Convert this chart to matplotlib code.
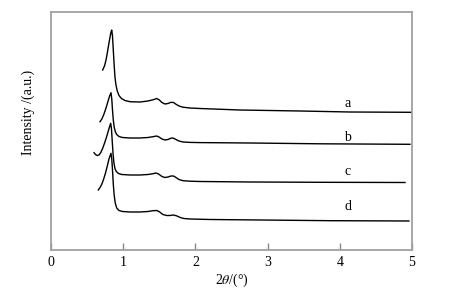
import matplotlib
matplotlib.use("Agg")
import matplotlib.pyplot as plt

plt.rcParams['font.family'] = ['Liberation Serif', 'DejaVu Serif']
plt.rcParams['mathtext.fontset'] = 'stix'

# 2theta (deg) and intensity (a.u.), one pair per sample
two_theta_a = [0.716, 0.741, 0.762, 0.780, 0.796, 0.813, 0.828, 0.841,
               0.852, 0.863, 0.875, 0.886, 0.900, 0.918, 0.942, 0.976, 1.025, 1.094,
               1.233, 1.343, 1.413, 1.464, 1.496, 1.537, 1.579, 1.620, 1.662, 1.697,
               1.731, 1.773, 1.828, 1.925, 2.064, 2.618, 3.449, 4.141, 4.996]
intensity_a = [180, 184, 190, 197, 204, 211, 217, 220,
               214, 200, 185, 173, 165, 159, 154.5, 151.5, 149.5, 148.3,
               148, 149, 150.2, 151.5, 150.3, 147.5, 146, 146.5, 147.7, 147.5,
               145.8, 144, 142.8, 142, 141.5, 140, 139, 138, 137.7]

two_theta_b = [0.679, 0.705, 0.734, 0.762, 0.787, 0.810, 0.831,
               0.842, 0.852, 0.863, 0.875, 0.890, 0.910, 0.942, 0.990, 1.094,
               1.233, 1.343, 1.413, 1.464, 1.496, 1.537, 1.579, 1.620, 1.662, 1.690,
               1.731, 1.773, 1.828, 1.925, 2.064, 2.756, 3.726, 4.972]
intensity_b = [128.3, 131, 136, 142, 148, 153.5, 157.3,
               151, 140, 130, 123, 118.5, 115.5, 113.5, 112.5, 112,
               112, 112.5, 113.3, 114, 113, 111, 110, 110.5, 111.8, 112,
               110.5, 109, 108, 107.6, 107.4, 107, 106.2, 105.7]

two_theta_c = [0.596, 0.617, 0.640, 0.665, 0.690, 0.715, 0.740, 0.765, 0.790, 0.810, 0.827,
               0.838, 0.849, 0.860, 0.872, 0.886, 0.905, 0.935, 0.980, 1.094,
               1.233, 1.343, 1.413, 1.454, 1.490, 1.537, 1.579, 1.620, 1.662, 1.697,
               1.731, 1.773, 1.828, 1.925, 2.064, 2.756, 3.726, 4.903]
intensity_c = [97.3, 95.5, 94.5, 95, 97.5, 101.5, 106.5, 112, 118, 123, 126.7,
               121, 108, 96, 87, 81.5, 78.5, 76.5, 75.5, 75,
               75, 75.5, 76.3, 77, 76, 73.5, 72.5, 73, 74, 74,
               72.5, 70.5, 69.3, 68.8, 68.5, 68, 67.7, 67.5]

two_theta_d = [0.655, 0.680, 0.705, 0.730, 0.755, 0.780, 0.803, 0.831,
               0.842, 0.852, 0.863, 0.875, 0.890, 0.910, 0.942, 0.990, 1.094,
               1.233, 1.343, 1.413, 1.464, 1.500, 1.550, 1.600, 1.648, 1.700,
               1.745, 1.790, 1.840, 1.925, 2.202, 2.895, 3.864, 4.958]
intensity_d = [60, 62.5, 66, 71, 77, 84, 91, 96.7,
               91, 80, 66, 55, 47, 42, 39.5, 38.5, 38,
               38, 38.5, 39.3, 39.5, 38.3, 35.5, 34.5, 34.5, 35,
               34, 32.5, 31.5, 31, 30.5, 30, 29.3, 29]

curve_labels = ['a', 'b', 'c', 'd']
label_x = 4.11
label_y = [147, 112.7, 78.3, 43.3]

xticks = [0, 1, 2, 3, 4, 5]

fig = plt.figure(figsize=(4.56, 2.93), dpi=100)
ax = fig.add_axes([0.1118, 0.1468, 0.7917, 0.8122])

series = [(two_theta_a, intensity_a), (two_theta_b, intensity_b),
          (two_theta_c, intensity_c), (two_theta_d, intensity_d)]
for (x, y) in series:
    ax.plot(x, y, color='black', lw=1.0, solid_joinstyle='round')

for lab, ly in zip(curve_labels, label_y):
    ax.text(label_x, ly, lab, ha='center', va='center', fontsize=10)

ax.set_xlim(0, 5)
ax.set_ylim(0, 238)
ax.set_xticks(xticks)
ax.set_xticklabels([str(t) for t in xticks], fontsize=10)
ax.set_yticks([])
ax.tick_params(axis='x', direction='in', length=5, width=1, color='#888888', pad=4)

for sp in ax.spines.values():
    sp.set_color('#a0a0a0')
    sp.set_linewidth(1.3)

ax.set_xlabel(r'2$\theta$/(°)', fontsize=10, labelpad=2)
ax.set_ylabel('Intensity /(a.u.)', fontsize=10)
ax.yaxis.set_label_coords(-0.045, 0.58)

fig.savefig('out.png', dpi=100)
